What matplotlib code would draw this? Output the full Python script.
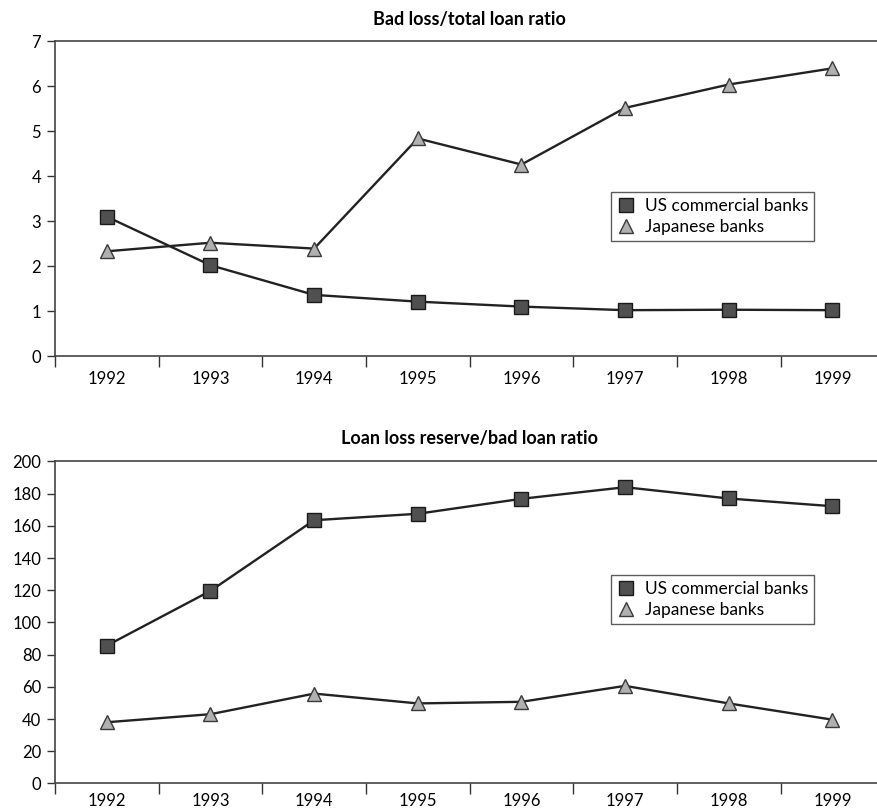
import numpy as np
import matplotlib.pyplot as plt
from matplotlib.ticker import FixedLocator, NullFormatter, FixedFormatter
import matplotlib.transforms as mtransforms

plt.rcParams['font.family'] = ['Lato', 'DejaVu Sans']

years = ['1992', '1993', '1994', '1995', '1996', '1997', '1998', '1999']

# bad loss / total loan ratio (%)
us_bad_ratio = [3.1, 2.02, 1.36, 1.21, 1.1, 1.02, 1.03, 1.02]
jp_bad_ratio = [2.33, 2.52, 2.39, 4.84, 4.26, 5.52, 6.04, 6.4]

# loan loss reserve / bad loan ratio (%)
us_reserve = [85.6, 119.6, 163.5, 167.5, 176.8, 184.0, 177.0, 172.2]
jp_reserve = [38.0, 43.0, 55.8, 49.7, 50.7, 60.6, 49.7, 39.6]

LINE = '#222222'
SQ_FACE = '#505050'
TRI_FACE = '#b0b0b0'


def draw_panel(ax, us, jp, title, ymax, ystep, leg_top, xpad):
	x = np.arange(len(years))
	ax.plot(x, us, color=LINE, lw=1.7, marker='s', ms=9.5,
			mfc=SQ_FACE, mec='#1a1a1a', mew=1.0, label='US commercial banks')
	ax.plot(x, jp, color=LINE, lw=1.7, marker='^', ms=9.5,
			mfc=TRI_FACE, mec='#3a3a3a', mew=1.0, label='Japanese banks')

	ax.set_xlim(-0.5, 7.44)
	ax.set_ylim(0, ymax)
	ax.set_yticks(np.arange(0, ymax + ystep / 2, ystep))
	ax.tick_params(axis='y', direction='out', length=6, width=1.0,
				   colors='#333333', labelcolor='black', labelsize=12, pad=4)

	# ticks sit between the years, labels under each year
	ax.xaxis.set_major_locator(FixedLocator(np.arange(-0.5, 8.0, 1.0)))
	ax.xaxis.set_major_formatter(NullFormatter())
	ax.xaxis.set_minor_locator(FixedLocator(x))
	ax.xaxis.set_minor_formatter(FixedFormatter(years))
	ax.tick_params(axis='x', which='major', direction='out', length=8,
				   width=1.0, colors='#333333')
	ax.tick_params(axis='x', which='minor', length=0, labelsize=12, pad=xpad)

	for side in ['left', 'bottom', 'top']:
		ax.spines[side].set_color('#444444')
		ax.spines[side].set_linewidth(1.2)
	ax.spines['right'].set_visible(False)

	trans = mtransforms.blended_transform_factory(ax.transData, ax.transAxes)
	ax.text(3.5, 1.07, title, transform=trans, ha='center', va='center',
			fontsize=13, fontweight='bold')

	leg = ax.legend(loc='upper left', bbox_to_anchor=(0.6756, leg_top),
					fontsize=12.5, frameon=True, fancybox=False,
					handlelength=1.0, handletextpad=0.6, borderpad=0.35,
					labelspacing=0.3, borderaxespad=0)
	leg.get_frame().set_edgecolor('#333333')
	leg.get_frame().set_linewidth(1.0)
	for line in leg.get_lines():
		line.set_linestyle('none')


fig = plt.figure(figsize=(8.78, 8.11), dpi=100)
ax1 = fig.add_axes([0.0626, 0.561, 0.9374, 0.388])
ax2 = fig.add_axes([0.0626, 0.034, 0.9374, 0.397])

draw_panel(ax1, us_bad_ratio, jp_bad_ratio, 'Bad loss/total loan ratio', 7, 1, 0.521, 11)
draw_panel(ax2, us_reserve, jp_reserve, 'Loan loss reserve/bad loan ratio', 200, 20, 0.648, 7)

fig.savefig('out.png', dpi=100)
